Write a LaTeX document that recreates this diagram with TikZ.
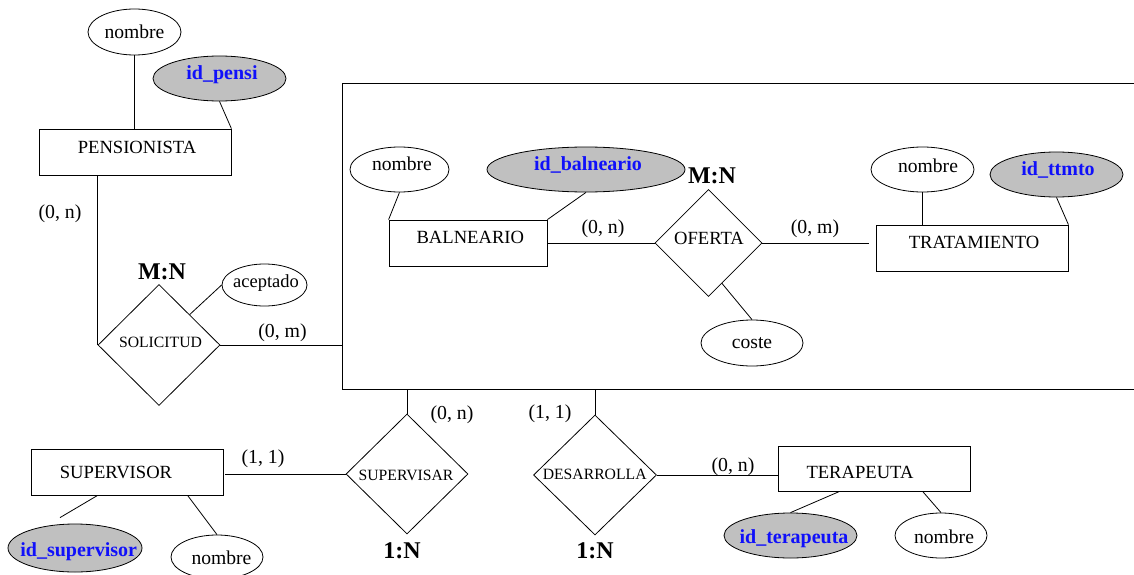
\documentclass[tikz,border=0pt]{standalone}
\usepackage{fontspec}
\setmainfont{Liberation Serif}
\usetikzlibrary{shapes.geometric,calc}
\definecolor{keyfill}{RGB}{192,192,192}
\definecolor{keyblue}{RGB}{16,16,250}

\tikzset{
  line/.style={draw=black, line width=0.8pt},
  entity/.style={rectangle, line, inner sep=0pt},
  attr/.style={ellipse, line, fill=white, inner sep=0pt},
  keyattr/.style={attr, fill=keyfill},
  rel/.style={diamond, line, aspect=1, inner sep=0pt},
  txt/.style={inner sep=0pt, text height=1.5ex, text depth=.25ex, yshift=-3.5pt},
  ename/.style={txt, font=\fontsize{18.6}{20}\selectfont},
  rname/.style={txt, font=\fontsize{15.7}{17}\selectfont},
  aname/.style={txt, font=\fontsize{19.6}{21}\selectfont},
  kname/.style={txt, font=\fontsize{20}{22}\selectfont\bfseries, text=keyblue},
  card/.style={txt, font=\fontsize{19.8}{22}\selectfont},
  ratio/.style={txt, font=\fontsize{24}{26}\selectfont\bfseries},
}

\begin{document}
\begin{tikzpicture}[x=1pt, y=-1pt]
\useasboundingbox (0,0) rectangle (1134,575);
\clip (0,0) rectangle (1134,575);

% aggregation box (SOLICITUD target), open on the right
\node[entity, minimum width=808pt, minimum height=306pt] (agg) at (746,236) {};

% ---------- PENSIONISTA ----------
\node[entity, minimum width=192pt, minimum height=46pt] (pen) at (135,152) {};
\node[ename] (pen-t) at (137,146.7) {PENSIONISTA};
\node[attr, minimum width=93pt, minimum height=46pt] (pnom) at (134.5,32) {};
\node[aname] (pnom-t) at (134.5,31.7) {nombre};
\node[keyattr, minimum width=133pt, minimum height=45pt] (pid) at (219.5,78.5) {};
\node[kname] (pid-t) at (222,72.7) {id\_pensi};
\draw[line] (pnom.south) -- (pnom.south |- pen.north);
\draw[line] (pid.south) -- (pen.north east);

% ---------- SOLICITUD ----------
\node[rel, minimum width=122pt, minimum height=121pt] (sol) at (159,345) {};
\node[rname] (sol-t) at (160.5,340.7) {SOLICITUD};
\node[ratio] (sol-r) at (162,273) {M:N};
\node[attr, minimum width=85pt, minimum height=42pt] (acep) at (264.5,285) {};
\node[aname, font=\fontsize{18.5}{20}\selectfont] (acep-t) at (266,281) {aceptado};
\draw[line] (sol.north east) -- (acep.west);
\draw[line] (sol.west |- pen.south) -- (sol.west);
\draw[line] (sol.east) -- (sol.east -| agg.west);
\node[card] (c1) at (60,212) {(0, n)};
\node[card] (c2) at (282.5,331) {(0, m)};

% ---------- BALNEARIO ----------
\node[entity, minimum width=158pt, minimum height=46pt] (bal) at (468,243) {};
\node[ename] (bal-t) at (470.3,236.7) {BALNEARIO};
\node[attr, minimum width=99pt, minimum height=45pt] (bnom) at (399.5,169.5) {};
\node[aname] (bnom-t) at (402,164.5) {nombre};
\node[keyattr, minimum width=198pt, minimum height=45pt] (bid) at (586,169.5) {};
\node[kname] (bid-t) at (588,164.5) {id\_balneario};
\draw[line] (bnom.south) -- (bal.north west);
\draw[line] (bid.south) -- (bal.north east);

% ---------- OFERTA ----------
\node[rel, minimum width=107pt, minimum height=107pt] (ofe) at (708.5,243) {};
\node[ename] (ofe-t) at (709,238) {OFERTA};
\node[ratio] (ofe-r) at (712,177) {M:N};
\node[attr, minimum width=102pt, minimum height=46pt] (cos) at (752,343) {};
\node[aname] (cos-t) at (752,342) {coste};
\draw[line] ($(ofe.east)!0.75!(ofe.south)$) -- (cos.north);

% ---------- TRATAMIENTO ----------
\node[entity, minimum width=192pt, minimum height=46pt] (tra) at (972,248) {};
\node[ename] (tra-t) at (974,241.7) {TRATAMIENTO};
\node[attr, minimum width=103pt, minimum height=45pt] (tnom) at (922.5,169.5) {};
\node[aname] (tnom-t) at (928,166) {nombre};
\node[keyattr, minimum width=133pt, minimum height=45pt] (tid) at (1056.5,174.5) {};
\node[kname] (tid-t) at (1058,169.3) {id\_ttmto};
\draw[line] (tnom.south) -- (tnom.south |- tra.north);
\draw[line] (tid.south) -- (tra.north east);

\draw[line] (bal.east) -- (ofe.west);
\draw[line, shorten >=7pt] (ofe.east) -- (ofe.east -| tra.west);
\node[card] (c3) at (603,227) {(0, n)};
\node[card] (c4) at (815,227) {(0, m)};

% ---------- SUPERVISAR ----------
\node[rel, minimum width=122pt, minimum height=120pt] (supv) at (407,474) {};
\node[rname] (supv-t) at (406,474) {SUPERVISAR};
\node[ratio] (supv-r) at (402,552) {1:N};
\draw[line] (supv.north |- agg.south) -- (supv.north);
\node[card] (c5) at (452,413) {(0, n)};

% ---------- SUPERVISOR ----------
\node[entity, minimum width=192pt, minimum height=46pt] (sup) at (127,472) {};
\node[ename] (sup-t) at (116,472) {SUPERVISOR};
\node[keyattr, minimum width=134pt, minimum height=48pt] (sid) at (75,548) {};
\node[kname] (sid-t) at (78.7,550) {id\_supervisor};
\node[attr, minimum width=92pt, minimum height=44pt] (snom) at (217,557) {};
\node[aname] (snom-t) at (221.5,558) {nombre};
\draw[line, shorten <=2pt] (sup.east |- supv.west) -- (supv.west);
\node[card] (c6) at (263,457) {(1, 1)};
\draw[line] ($(sup.south west)+(67,0)$) -- ($(sid.north)+(-15,-6)$);
\draw[line] ($(sup.south west)+(157,0)$) -- (snom.north);

% ---------- DESARROLLA ----------
\node[rel, minimum width=123pt, minimum height=120pt] (desa) at (595,475) {};
\node[rname] (desa-t) at (594.7,473.3) {DESARROLLA};
\node[ratio] (desa-r) at (595,552) {1:N};
\draw[line] (desa.north |- agg.south) -- (desa.north);
\node[card] (c7) at (550,412) {(1, 1)};

% ---------- TERAPEUTA ----------
\node[entity, minimum width=192pt, minimum height=45pt] (ter) at (874,468.5) {};
\node[ename] (ter-t) at (860,471.7) {TERAPEUTA};
\node[keyattr, minimum width=133pt, minimum height=45pt] (terid) at (790.5,535.5) {};
\node[kname] (terid-t) at (794,536.7) {id\_terapeuta};
\node[attr, minimum width=92pt, minimum height=45pt] (tenom) at (941,535.5) {};
\node[aname] (tenom-t) at (944,536.7) {nombre};
\draw[line] (desa.east) -- (desa.east -| ter.west);
\node[card] (c8) at (733,465) {(0, n)};
\draw[line] ($(ter.south west)+(62,0)$) -- (terid.north);
\draw[line] ($(ter.south west)+(145,0)$) -- (tenom.north);
\end{tikzpicture}
\end{document}
